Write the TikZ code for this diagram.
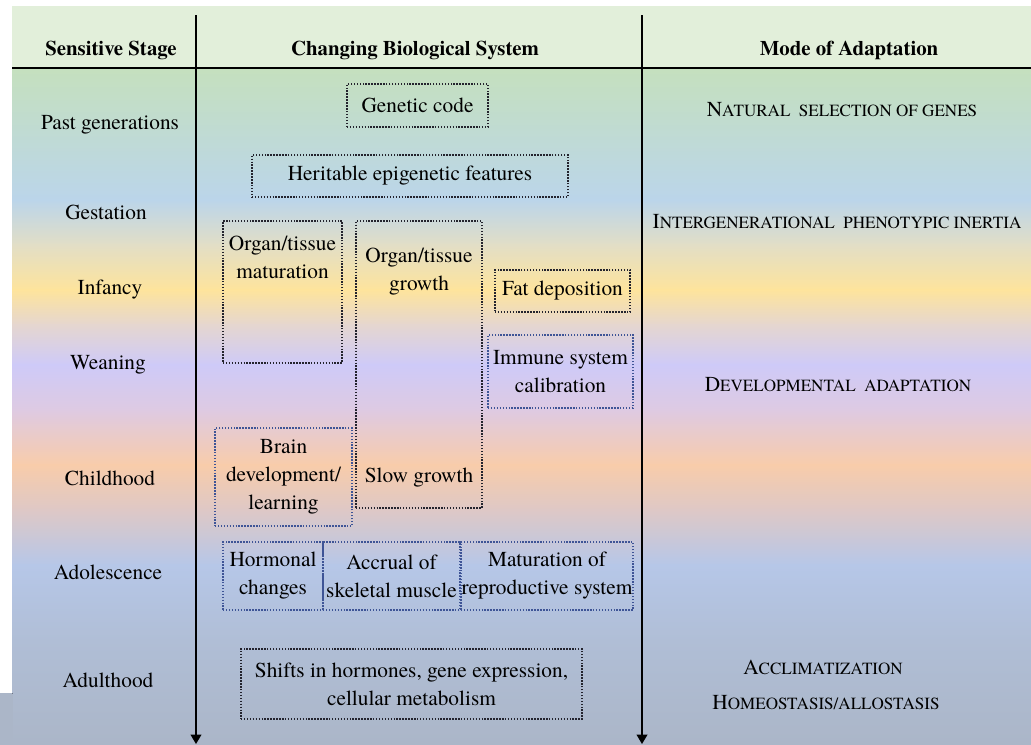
\documentclass[tikz,border=0pt]{standalone}
\usepackage{fontspec}
\setmainfont{texgyretermes}[Extension=.otf, UprightFont=*-regular,
  BoldFont=*-bold, ItalicFont=*-italic, BoldItalicFont=*-bolditalic]
\usetikzlibrary{arrows.meta,positioning}

% background bands
\definecolor{bgHead}{RGB}{226,239,218}
\definecolor{bgGreen}{RGB}{197,224,190}
\definecolor{bgTeal}{RGB}{192,219,210}
\definecolor{bgSky}{RGB}{187,213,234}
\definecolor{bgSand}{RGB}{226,222,198}
\definecolor{bgYellow}{RGB}{254,228,156}
\definecolor{bgMauve}{RGB}{229,214,208}
\definecolor{bgLilac}{RGB}{206,202,248}
\definecolor{bgRose}{RGB}{222,202,226}
\definecolor{bgPeach}{RGB}{248,204,170}
\definecolor{bgDust}{RGB}{222,200,198}
\definecolor{bgBlue}{RGB}{182,199,232}
\definecolor{bgSteel}{RGB}{176,190,214}
\definecolor{bgSlate}{RGB}{171,182,200}
% box edges
\definecolor{edgeDark}{RGB}{35,35,45}
\definecolor{edgeBlue}{RGB}{62,84,150}

\newcommand{\fakesc}[2]{#1{\fontsize{12.8}{15}\selectfont #2}}

\tikzset{
  stage/.style={font=\fontsize{16}{21}\selectfont, align=center, inner sep=0pt},
  head/.style={font=\fontsize{15.6}{18}\selectfont\bfseries, inner sep=0pt},
  mode/.style={font=\fontsize{16}{21}\selectfont, inner sep=0pt},
  sysbox/.style 2 args={draw=edgeDark, line width=1.1pt,
    dash pattern=on 1.1pt off 1.1pt, minimum width=#1*0.75pt,
    minimum height=#2*0.75pt, inner sep=0pt, align=center,
    font=\fontsize{16}{21}\selectfont},
  bluebox/.style={draw=edgeBlue},
  timeline/.style={line width=1.1pt, -{Triangle[width=8pt,length=7pt]}},
}

\begin{document}
\begin{tikzpicture}[x=0.75pt, y=-0.75pt]
  \useasboundingbox (0,0) rectangle (1031,744);

  % background
  \fill[bgHead] (12,6) rectangle (1031,68);
  \foreach \ya/\yb/\ca/\cb in {68/130/bgGreen/bgTeal, 130/200/bgTeal/bgSky,
      200/245/bgSky/bgSand, 245/290/bgSand/bgYellow, 290/325/bgYellow/bgMauve,
      325/365/bgMauve/bgLilac, 365/410/bgLilac/bgRose, 410/465/bgRose/bgPeach,
      465/510/bgPeach/bgDust, 510/565/bgDust/bgBlue, 565/640/bgBlue/bgSteel,
      640/744/bgSteel/bgSlate}
    \fill[top color=\ca, bottom color=\cb] (12,\ya-0.5) rectangle (1031,\yb+0.5);
  \fill[top color=bgSlate!97!bgSteel, bottom color=bgSlate] (0,693) rectangle (12.5,744);

  % frame lines
  \coordinate (stagetop) at (196,15);
  \coordinate (stagebot) at (196,744);
  \coordinate (modetop) at (642,15);
  \coordinate (modebot) at (642,744);
  \coordinate (headl) at (12,68);
  \coordinate (headr) at (1031,68);
  \draw[line width=1.6pt] (headl) -- (headr);
  \draw[timeline] (stagetop) -- (stagebot);
  \draw[timeline] (modetop) -- (modebot);

  % header
  \node[head] (hstage) at (111,50) {Sensitive Stage};
  \node[head] (hsystem) at (415,50) {Changing Biological System};
  \node[head] (hmode) at (849,50) {Mode of Adaptation};

  % sensitive stages
  \node[stage] (past) at (110,125) {Past generations};
  \node[stage] (gest) at (106,212) {Gestation};
  \node[stage] (inf) at (110,290) {Infancy};
  \node[stage] (wean) at (108,365) {Weaning};
  \node[stage] (child) at (110,478) {Childhood};
  \node[stage] (adol) at (108,572) {Adolescence};
  \node[stage] (adult) at (108,680) {Adulthood};

  % changing biological systems
  \node[sysbox={141}{43}] (gencode) at (417.5,105.5) {Genetic code};
  \node[sysbox={316}{42}] (herit) at (410,176) {Heritable epigenetic features};
  \node[sysbox={119}{142}] (orgmat) at (282.5,292) {};
  \node[stage] (orgmattxt) at (282.5,257) {Organ/tissue\\maturation};
  \node[sysbox={126}{287}] (orggrow) at (419,364.5) {};
  \node[stage] (orggrowtxt) at (419,271.5) {Organ/tissue\\growth};
  \node[stage] (slowtxt) at (419,478) {Slow growth};
  \node[sysbox={135}{42}] (fat) at (562.5,291) {Fat deposition};
  \node[sysbox={145}{73}, bluebox] (immune) at (560.5,371.5) {Immune system\\calibration};
  \node[sysbox={137}{98}, bluebox] (brain) at (283.5,477) {Brain\\development/\\learning};
  \node[sysbox={100}{68}, bluebox] (hormone) at (273,576) {Hormonal\\changes};
  \node[sysbox={137}{68}, bluebox] (muscle) at (391.5,576) {Accrual of\\skeletal muscle};
  \node[sysbox={172}{68}, bluebox] (repro) at (547,576) {Maturation of\\reproductive system};
  \node[sysbox={341}{70}] (shifts) at (411.5,684) {Shifts in hormones, gene expression,\\cellular metabolism};

  % modes of adaptation
  \node[mode] (natsel) at (842,110) {\fakesc{N}{ATURAL\ \ SELECTION OF GENES}};
  \node[mode] (inertia) at (837,222) {\fakesc{I}{NTERGENERATIONAL\ \ PHENOTYPIC INERTIA}};
  \node[mode] (devad) at (838,385) {\fakesc{D}{EVELOPMENTAL\ \ ADAPTATION}};
  \node[mode] (acclim) at (823,667) {\fakesc{A}{CCLIMATIZATION}};
  \node[mode] (homeo) at (826,703) {\fakesc{H}{OMEOSTASIS/ALLOSTASIS}};
\end{tikzpicture}
\end{document}
